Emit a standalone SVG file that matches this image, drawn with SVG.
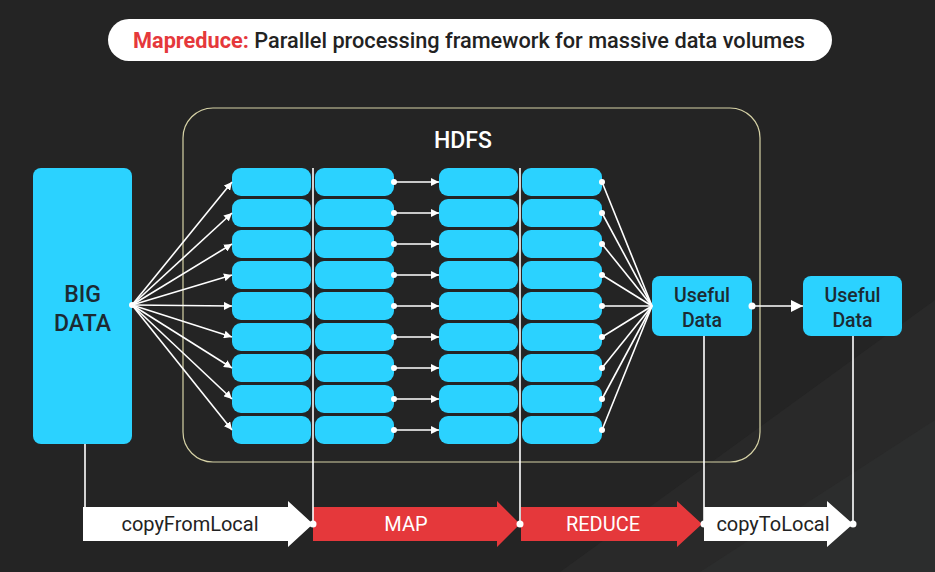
<svg xmlns="http://www.w3.org/2000/svg" width="935" height="572" viewBox="0 0 935 572">
<defs>
<marker id="ah" viewBox="0 0 10 10" refX="10" refY="5" markerWidth="8" markerHeight="8" markerUnits="userSpaceOnUse" orient="auto"><path d="M0,0 L10,5 L0,10 z" fill="#ffffff"/></marker>
<marker id="ahb" viewBox="0 0 10 10" refX="10" refY="5" markerWidth="12" markerHeight="12" markerUnits="userSpaceOnUse" orient="auto"><path d="M0,0 L10,5 L0,10 z" fill="#ffffff"/></marker>
</defs>
<style>
.bg{fill:#242424}
.cy{fill:#2bd2ff}
.ln{stroke:#ffffff;stroke-width:1.6;fill:none}
.dot{fill:#ffffff}
.t{font-family:Roboto,"Liberation Sans",sans-serif;font-weight:500}
.s{font-family:Roboto,"Liberation Sans",sans-serif;font-weight:400;font-size:20px}
.dk{fill:#1c2a33}
</style>
<rect class="bg" x="0" y="0" width="935" height="572"/>
<path d="M560,572 L935,300 L935,572 Z" fill="#292929"/>
<path d="M700,572 L935,420 L935,572 Z" fill="#2c2d2d"/>

<g id="title">
<rect x="108" y="19" width="724" height="42" rx="21" fill="#ffffff"/>
<text class="t" x="469" y="48" text-anchor="middle" font-size="22" fill="#222222" textLength="672" lengthAdjust="spacingAndGlyphs"><tspan fill="#e5383b" font-weight="bold">Mapreduce:</tspan> Parallel processing framework for massive data volumes</text>
</g>

<g id="hdfs">
<rect x="183" y="108" width="577" height="354" rx="30" fill="none" stroke="#d6d2a6" stroke-width="1.2"/>
<text class="t" x="463" y="148" text-anchor="middle" font-size="23" fill="#ffffff">HDFS</text>
</g>

<g id="bigdata">
<rect class="cy" x="33" y="168" width="99" height="276" rx="8"/>
<text class="t dk" x="82.5" y="302" text-anchor="middle" font-size="23">BIG</text>
<text class="t dk" x="82.5" y="331" text-anchor="middle" font-size="23">DATA</text>
</g>

<g id="col1" class="cy">
<rect x="232" y="168" width="79" height="28" rx="9"/>
<rect x="232" y="199" width="79" height="28" rx="9"/>
<rect x="232" y="230" width="79" height="28" rx="9"/>
<rect x="232" y="261" width="79" height="28" rx="9"/>
<rect x="232" y="292" width="79" height="28" rx="9"/>
<rect x="232" y="323" width="79" height="28" rx="9"/>
<rect x="232" y="354" width="79" height="28" rx="9"/>
<rect x="232" y="385" width="79" height="28" rx="9"/>
<rect x="232" y="416" width="79" height="28" rx="9"/>
</g>
<g id="col2" class="cy">
<rect x="315" y="168" width="79" height="28" rx="9"/>
<rect x="315" y="199" width="79" height="28" rx="9"/>
<rect x="315" y="230" width="79" height="28" rx="9"/>
<rect x="315" y="261" width="79" height="28" rx="9"/>
<rect x="315" y="292" width="79" height="28" rx="9"/>
<rect x="315" y="323" width="79" height="28" rx="9"/>
<rect x="315" y="354" width="79" height="28" rx="9"/>
<rect x="315" y="385" width="79" height="28" rx="9"/>
<rect x="315" y="416" width="79" height="28" rx="9"/>
</g>
<g id="col3" class="cy">
<rect x="439" y="168" width="79" height="28" rx="9"/>
<rect x="439" y="199" width="79" height="28" rx="9"/>
<rect x="439" y="230" width="79" height="28" rx="9"/>
<rect x="439" y="261" width="79" height="28" rx="9"/>
<rect x="439" y="292" width="79" height="28" rx="9"/>
<rect x="439" y="323" width="79" height="28" rx="9"/>
<rect x="439" y="354" width="79" height="28" rx="9"/>
<rect x="439" y="385" width="79" height="28" rx="9"/>
<rect x="439" y="416" width="79" height="28" rx="9"/>
</g>
<g id="col4" class="cy">
<rect x="522" y="168" width="80" height="28" rx="9"/>
<rect x="522" y="199" width="80" height="28" rx="9"/>
<rect x="522" y="230" width="80" height="28" rx="9"/>
<rect x="522" y="261" width="80" height="28" rx="9"/>
<rect x="522" y="292" width="80" height="28" rx="9"/>
<rect x="522" y="323" width="80" height="28" rx="9"/>
<rect x="522" y="354" width="80" height="28" rx="9"/>
<rect x="522" y="385" width="80" height="28" rx="9"/>
<rect x="522" y="416" width="80" height="28" rx="9"/>
</g>

<g id="useful1">
<rect class="cy" x="652" y="276" width="100" height="60" rx="8"/>
<text class="t dk" x="702" y="302" text-anchor="middle" font-size="19.5">Useful</text>
<text class="t dk" x="702" y="327" text-anchor="middle" font-size="19.5">Data</text>
</g>
<g id="useful2">
<rect class="cy" x="803" y="276" width="99" height="60" rx="8"/>
<text class="t dk" x="852.5" y="302" text-anchor="middle" font-size="19.5">Useful</text>
<text class="t dk" x="852.5" y="327" text-anchor="middle" font-size="19.5">Data</text>
</g>

<g id="stages">
<path d="M83,507 H288 V501 L313,524 L288,547 V541 H83 Z" fill="#ffffff"/>
<text class="s" x="190" y="531" text-anchor="middle" fill="#222222">copyFromLocal</text>
<path d="M313,507 H497 V501 L520,524 L497,547 V541 H313 Z" fill="#e5383b"/>
<text class="s" x="406" y="531" text-anchor="middle" fill="#ffffff">MAP</text>
<path d="M521,507 H677 V501 L702,524 L677,547 V541 H521 Z" fill="#e5383b"/>
<text class="s" x="603" y="531" text-anchor="middle" fill="#ffffff">REDUCE</text>
<path d="M704,507 H827 V501 L853,524 L827,547 V541 H704 Z" fill="#ffffff"/>
<text class="s" x="773" y="531" text-anchor="middle" fill="#222222">copyToLocal</text>
</g>

<g id="connectors">
<g class="ln" marker-end="url(#ah)">
<line x1="132" y1="305" x2="232" y2="182"/>
<line x1="132" y1="305" x2="232" y2="213"/>
<line x1="132" y1="305" x2="232" y2="244"/>
<line x1="132" y1="305" x2="232" y2="275"/>
<line x1="132" y1="305" x2="232" y2="306"/>
<line x1="132" y1="305" x2="232" y2="337"/>
<line x1="132" y1="305" x2="232" y2="368"/>
<line x1="132" y1="305" x2="232" y2="399"/>
<line x1="132" y1="305" x2="232" y2="430"/>
</g>
<g class="ln" marker-end="url(#ah)">
<line x1="394" y1="182" x2="439" y2="182"/>
<line x1="394" y1="213" x2="439" y2="213"/>
<line x1="394" y1="244" x2="439" y2="244"/>
<line x1="394" y1="275" x2="439" y2="275"/>
<line x1="394" y1="306" x2="439" y2="306"/>
<line x1="394" y1="337" x2="439" y2="337"/>
<line x1="394" y1="368" x2="439" y2="368"/>
<line x1="394" y1="399" x2="439" y2="399"/>
<line x1="394" y1="430" x2="439" y2="430"/>
</g>
<g class="ln">
<line x1="602" y1="182" x2="652" y2="306"/>
<line x1="602" y1="213" x2="652" y2="306"/>
<line x1="602" y1="244" x2="652" y2="306"/>
<line x1="602" y1="275" x2="652" y2="306"/>
<line x1="602" y1="306" x2="652" y2="306"/>
<line x1="602" y1="337" x2="652" y2="306"/>
<line x1="602" y1="368" x2="652" y2="306"/>
<line x1="602" y1="399" x2="652" y2="306"/>
<line x1="602" y1="430" x2="652" y2="306"/>
</g>
<line class="ln" x1="752" y1="306" x2="803" y2="306" stroke-width="2.4" marker-end="url(#ahb)"/>
<g class="ln">
<line x1="313" y1="168" x2="313" y2="524"/>
<line x1="520" y1="168" x2="520" y2="524"/>
<line x1="85" y1="444" x2="85" y2="507"/>
<line x1="704" y1="336" x2="704" y2="524"/>
<line x1="853" y1="336" x2="853" y2="524"/>
</g>
<g class="dot">
<circle cx="132" cy="305" r="3"/>
<circle cx="394" cy="182" r="3"/><circle cx="394" cy="213" r="3"/><circle cx="394" cy="244" r="3"/><circle cx="394" cy="275" r="3"/><circle cx="394" cy="306" r="3"/><circle cx="394" cy="337" r="3"/><circle cx="394" cy="368" r="3"/><circle cx="394" cy="399" r="3"/><circle cx="394" cy="430" r="3"/>
<circle cx="602" cy="182" r="3"/><circle cx="602" cy="213" r="3"/><circle cx="602" cy="244" r="3"/><circle cx="602" cy="275" r="3"/><circle cx="602" cy="306" r="3"/><circle cx="602" cy="337" r="3"/><circle cx="602" cy="368" r="3"/><circle cx="602" cy="399" r="3"/><circle cx="602" cy="430" r="3"/>
<circle cx="752" cy="306" r="3.5"/>
<circle cx="313" cy="524" r="3.5"/><circle cx="520" cy="524" r="3.5"/><circle cx="704" cy="524" r="3.5"/><circle cx="853" cy="524" r="3.5"/>
</g>
</g>
</svg>
